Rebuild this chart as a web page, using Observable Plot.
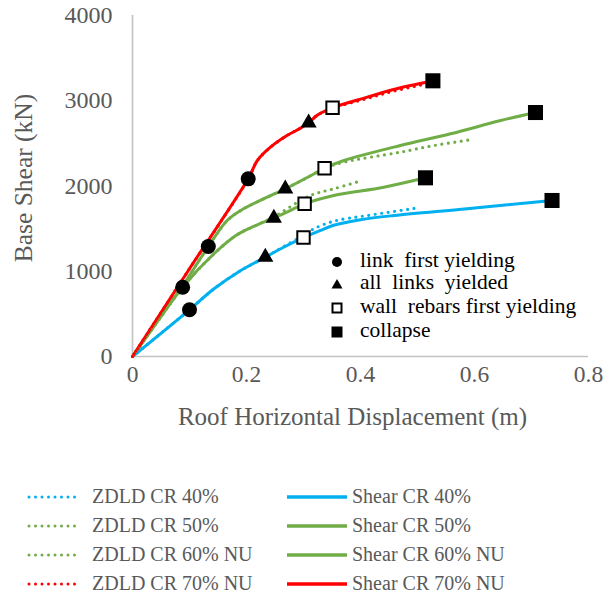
<!DOCTYPE html>
<html>
<head>
<meta charset="utf-8">
<script src="https://cdn.jsdelivr.net/npm/d3@7"></script>
<script src="https://cdn.jsdelivr.net/npm/@observablehq/plot@0.6"></script>
<style>
  html, body { margin: 0; padding: 0; background: #fff; }
  #wrap svg { display: block; }
</style>
</head>
<body>
<div id="wrap" style="position:relative;width:611px;height:600px;font-family:'Liberation Serif',serif"></div>
<script>
// ---- data ----
const xTicks = [0, 0.2, 0.4, 0.6, 0.8];
const yTicks = [0, 1000, 2000, 3000, 4000];

const shear40X = [0, 0.100, 0.143, 0.190, 0.233, 0.265, 0.300, 0.330, 0.353, 0.400, 0.459, 0.587, 0.736];
const shear40Y = [0, 548, 794, 1009, 1165, 1282, 1395, 1480, 1540, 1605, 1654, 1733, 1830];
const zdld40X  = [0, 0.100, 0.143, 0.190, 0.233, 0.265, 0.300, 0.318, 0.353, 0.412, 0.497];
const zdld40Y  = [0, 548, 794, 1009, 1165, 1290, 1420, 1498, 1587, 1654, 1740];

const shear50X = [0, 0.088, 0.143, 0.184, 0.219, 0.248, 0.289, 0.302, 0.353, 0.441, 0.514];
const shear50Y = [0, 813, 1205, 1430, 1545, 1625, 1751, 1791, 1889, 1986, 2096];
const zdld50X  = [0, 0.088, 0.143, 0.184, 0.219, 0.248, 0.312, 0.353, 0.403];
const zdld50Y  = [0, 813, 1205, 1430, 1545, 1640, 1889, 1967, 2064];

const shear60X = [0, 0.088, 0.133, 0.166, 0.190, 0.230, 0.268, 0.324, 0.337, 0.371, 0.470, 0.558, 0.646, 0.707];
const shear60Y = [0, 830, 1290, 1595, 1713, 1850, 1967, 2162, 2209, 2299, 2475, 2612, 2768, 2862];
const zdld60X  = [0, 0.088, 0.133, 0.166, 0.190, 0.230, 0.268, 0.324, 0.337, 0.371, 0.470, 0.529, 0.593];
const zdld60Y  = [0, 830, 1290, 1595, 1713, 1850, 1967, 2162, 2209, 2280, 2397, 2475, 2542];

const shear70X = [0, 0.100, 0.203, 0.219, 0.242, 0.271, 0.295, 0.309, 0.324, 0.351, 0.412, 0.458, 0.527];
const shear70Y = [0, 1030, 2084, 2299, 2455, 2592, 2679, 2740, 2830, 2917, 3042, 3132, 3234];
const zdld70X  = [0, 0.100, 0.203, 0.219, 0.242, 0.271, 0.295, 0.309, 0.324, 0.351, 0.412, 0.458, 0.520];
const zdld70Y  = [0, 1030, 2084, 2299, 2455, 2592, 2679, 2740, 2830, 2910, 3028, 3112, 3205];

const linkFirstX = [0.100, 0.088, 0.133, 0.203];
const linkFirstY = [548, 813, 1290, 2084];
const allLinksX  = [0.233, 0.248, 0.268, 0.309];
const allLinksY  = [1165, 1625, 1967, 2740];
const wallRebarX = [0.300, 0.302, 0.337, 0.351];
const wallRebarY = [1395, 1791, 2209, 2917];
const collapseX  = [0.736, 0.514, 0.707, 0.527];
const collapseY  = [1830, 2096, 2862, 3234];

const seriesNames  = ["ZDLD CR 40%", "ZDLD CR 50%", "ZDLD CR 60% NU", "ZDLD CR 70% NU",
                      "Shear CR 40%", "Shear CR 50%", "Shear CR 60% NU", "Shear CR 70% NU"];
const seriesColors = ["#00B0F0", "#70AD47", "#70AD47", "#FF0000",
                      "#00B0F0", "#70AD47", "#70AD47", "#FF0000"];
const markerNames = ["link  first yielding", "all  links  yielded", "wall  rebars first yielding", "collapse"];

const FONT = "'Liberation Serif', serif";

// ---- build tables ----
const zip = (xs, ys) => xs.map((x, i) => ({x, y: ys[i]}));
const solid = [zip(shear40X, shear40Y), zip(shear50X, shear50Y), zip(shear60X, shear60Y), zip(shear70X, shear70Y)];
const dotted = [zip(zdld40X, zdld40Y), zip(zdld50X, zdld50Y), zip(zdld60X, zdld60Y), zip(zdld70X, zdld70Y)];
const solidColors = seriesColors.slice(4);
const dottedColors = seriesColors.slice(0, 4);

const marks = [
  Plot.ruleY([0], {stroke: "#C3C3C3", strokeWidth: 1.7}),
  Plot.ruleX([0], {stroke: "#C3C3C3", strokeWidth: 1.7}),
  Plot.axisX({ticks: xTicks, tickSize: 0, tickPadding: 9, tickFormat: d => String(d),
    fontSize: 23.5, label: "Roof Horizontal Displacement (m)", labelAnchor: "center", labelArrow: "none", labelOffset: 68}),
  Plot.axisY({ticks: yTicks, tickSize: 0, tickPadding: 20, tickFormat: d => String(d),
    fontSize: 24, label: "Base Shear (kN)", labelAnchor: "center", labelArrow: "none", labelOffset: 119})
];
solid.forEach((d, i) => marks.push(Plot.line(d, {x: "x", y: "y", stroke: solidColors[i], strokeWidth: 3, curve: "catmull-rom"})));
dotted.forEach((d, i) => marks.push(Plot.line(d, {x: "x", y: "y", stroke: dottedColors[i], strokeWidth: 3.2,
  strokeDasharray: "0 6.5", strokeLinecap: "round", curve: "catmull-rom"})));
marks.push(
  Plot.dot(zip(linkFirstX, linkFirstY), {x: "x", y: "y", r: 7.5, fill: "#000", symbol: "circle"}),
  Plot.dot(zip(allLinksX, allLinksY), {x: "x", y: "y", r: 6, fill: "#000", symbol: "triangle"}),
  Plot.dot(zip(wallRebarX, wallRebarY), {x: "x", y: "y", r: 7, fill: "#fff", stroke: "#000", strokeWidth: 2, symbol: "square"}),
  Plot.dot(zip(collapseX, collapseY), {x: "x", y: "y", r: 8.5, fill: "#000", symbol: "square"})
);

const chart = Plot.plot({
  width: 611, height: 460,
  marginLeft: 132, marginRight: 23, marginTop: 15, marginBottom: 104,
  style: {fontFamily: FONT, fontSize: "23px", color: "#595959", background: "#fff", overflow: "visible"},
  x: {domain: [0, 0.8]},
  y: {domain: [0, 4000]},
  marks
});
const wrap = document.getElementById("wrap");
wrap.appendChild(chart);
chart.querySelectorAll("text").forEach(t => { t.style.fontFamily = FONT; });
chart.querySelectorAll("g[aria-label='x-axis label'] text").forEach(t => { t.setAttribute("font-size", 25); t.setAttribute("dx", -8); });
chart.querySelectorAll("g[aria-label='y-axis label'] text").forEach(t => { t.setAttribute("font-size", 25.5); t.setAttribute("dx", 8); });

function addText(txt, left, top, size, color) {
  const t = document.createElement("div");
  t.style.cssText = `position:absolute;white-space:pre;line-height:1;left:${left}px;top:${top}px;font-family:${FONT};font-size:${size}px;color:${color}`;
  t.textContent = txt;
  wrap.appendChild(t);
}
function addSvg(inner, left, top, w, h) {
  const s = document.createElement("div");
  s.style.cssText = `position:absolute;line-height:0;left:${left}px;top:${top}px`;
  s.innerHTML = `<svg width="${w}" height="${h}">${inner}</svg>`;
  wrap.appendChild(s);
}

// ---- inner marker legend ----
const mkRows = [262, 284, 308, 332];
const mkSvg = [
  '<circle cx="6" cy="6" r="5" fill="#000"/>',
  '<path d="M6 1 L11.5 10.5 L0.5 10.5 Z" fill="#000"/>',
  '<rect x="1.5" y="1.5" width="9" height="9" fill="#fff" stroke="#000" stroke-width="2"/>',
  '<rect x="0.5" y="0.5" width="11" height="11" fill="#000"/>'
];
markerNames.forEach((name, i) => {
  addSvg(mkSvg[i], 331, mkRows[i] - 6, 12, 12);
  addText(name, 360, mkRows[i] - 12, 21.5, "#000");
});

// ---- bottom series legend ----
const rows = [497, 526, 555, 584];
seriesNames.forEach((name, i) => {
  const col = i < 4 ? 0 : 1;
  const row = i % 4;
  const lx = col === 0 ? 27 : 287;
  const lw = col === 0 ? 56 : 60;
  const tx = col === 0 ? 92 : 352;
  const line = col === 0
    ? `<line x1="2" y1="5" x2="${lw - 2}" y2="5" stroke="${seriesColors[i]}" stroke-width="3" stroke-dasharray="0 6.5" stroke-linecap="round"/>`
    : `<line x1="0" y1="5" x2="${lw}" y2="5" stroke="${seriesColors[i]}" stroke-width="3.5"/>`;
  addSvg(line, lx, rows[row] - 5, lw, 10);
  addText(name, tx, rows[row] - 11, 20, "#595959");
});
</script>
</body>
</html>
